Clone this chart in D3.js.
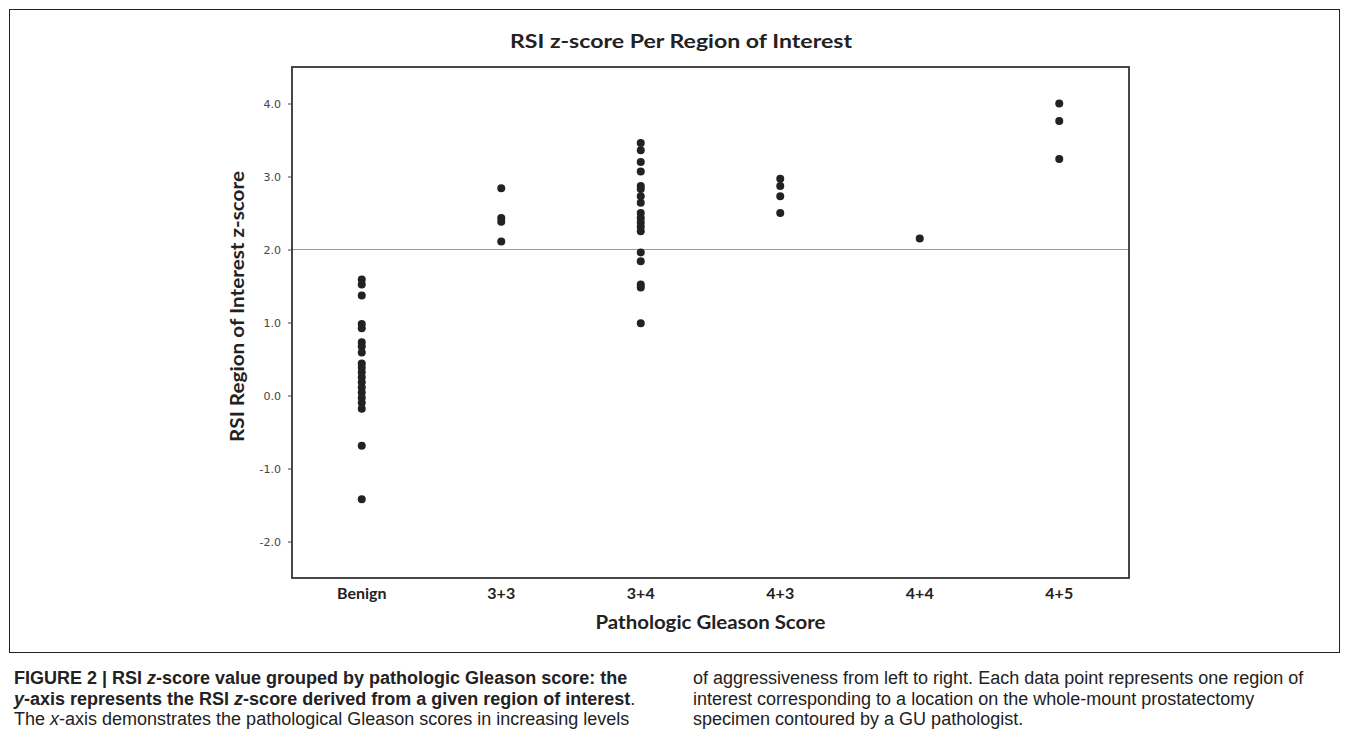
<!DOCTYPE html>
<html><head><meta charset="utf-8">
<script src="https://cdn.jsdelivr.net/npm/d3@7"></script>
<style>
body{margin:0;background:#fff;}
svg{display:block;}
</style></head>
<body>
<svg id="chart" width="1356" height="752"></svg>
<script>
const categories = ["Benign", "3+3", "3+4", "4+3", "4+4", "4+5"];
const benign = [1.59, 1.52, 1.37, 0.98, 0.92, 0.73, 0.67, 0.59, 0.44, 0.38, 0.32, 0.25, 0.18, 0.11, 0.04, -0.03, -0.10, -0.18, -0.69, -1.42];
const g33 = [2.84, 2.43, 2.38, 2.11];
const g34 = [3.46, 3.36, 3.20, 3.07, 2.87, 2.83, 2.73, 2.64, 2.50, 2.43, 2.37, 2.31, 2.25, 1.96, 1.84, 1.52, 1.48, 0.99];
const g43 = [2.97, 2.87, 2.73, 2.50];
const g44 = [2.15];
const g45 = [4.00, 3.76, 3.24];
const seriesValues = [benign, g33, g34, g43, g44, g45];
const yTicks = [-2, -1, 0, 1, 2, 3, 4];
const threshold = 2.0;

const points = [];
categories.forEach((c, i) => seriesValues[i].forEach(v => points.push({cat: c, v})));

const svg = d3.select("#chart");
const L = 292, R = 1129, T = 67, B = 578;
const x = d3.scaleBand().domain(categories).range([L, R]).padding(0);
const y = d3.scaleLinear().domain([-2.5, 4.5]).range([B, T]);

// outer figure box
svg.append("rect").attr("x", 9.5).attr("y", 9.5).attr("width", 1330).attr("height", 643)
  .attr("fill", "none").attr("stroke", "#222").attr("stroke-width", 1);

// title
const title = svg.append("text").attr("x", 681).attr("y", 48).attr("text-anchor", "middle")
  .attr("font-family", "Lato, 'Open Sans', sans-serif").attr("font-size", 19).attr("fill", "#222")
  .attr("textLength", 342).attr("lengthAdjust", "spacingAndGlyphs");
title.append("tspan").attr("font-weight", 700).text("RSI  z-score");
title.append("tspan").attr("font-weight", 700).text(" Per Region of Interest");

// threshold line
svg.append("line").attr("x1", L).attr("x2", R).attr("y1", y(threshold)).attr("y2", y(threshold))
  .attr("stroke", "#999").attr("stroke-width", 1.2);

// frame
svg.append("rect").attr("x", L).attr("y", T).attr("width", R - L).attr("height", B - T)
  .attr("fill", "none").attr("stroke", "#333").attr("stroke-width", 1.8);

// y axis
const yAxis = svg.append("g").attr("transform", `translate(${L},0)`)
  .call(d3.axisLeft(y).tickValues(yTicks).tickSize(4).tickPadding(7).tickFormat(d => d.toFixed(1)));
yAxis.select(".domain").remove();
yAxis.selectAll("line").attr("stroke", "#444");
yAxis.selectAll("text").attr("font-family", "'DejaVu Sans', sans-serif").attr("font-size", 11).attr("fill", "#444");

// x axis
const xAxis = svg.append("g").attr("transform", `translate(0,${B})`)
  .call(d3.axisBottom(x).tickSize(0).tickPadding(10));
xAxis.select(".domain").remove();
xAxis.selectAll("text").attr("font-family", "Lato, sans-serif").attr("font-weight", 700)
  .attr("font-size", 16).attr("fill", "#222");

// axis titles
svg.append("text").attr("x", (L + R) / 2).attr("y", 629).attr("text-anchor", "middle")
  .attr("font-family", "Lato, sans-serif").attr("font-weight", 700).attr("font-size", 19).attr("fill", "#222")
  .attr("textLength", 230).attr("lengthAdjust", "spacingAndGlyphs")
  .text("Pathologic Gleason Score");
svg.append("text").attr("transform", `translate(244,306.5) rotate(-90)`).attr("text-anchor", "middle")
  .attr("font-family", "Lato, sans-serif").attr("font-weight", 700).attr("font-size", 19).attr("fill", "#222")
  .attr("textLength", 271).attr("lengthAdjust", "spacingAndGlyphs")
  .text("RSI Region of Interest z-score");

// points
svg.append("g").selectAll("circle").data(points).join("circle")
  .attr("cx", d => x(d.cat) + x.bandwidth() / 2)
  .attr("cy", d => y(d.v))
  .attr("r", 4)
  .attr("fill", "#222");

// caption
const capFont = "'Liberation Sans', Arial, sans-serif";
function capLine(xp, yp, parts) {
  const t = svg.append("text").attr("x", xp).attr("y", yp).attr("font-family", capFont)
    .attr("font-size", 18).attr("fill", "#222");
  parts.forEach(p => t.append("tspan").attr("font-weight", p.b ? 700 : 400)
    .attr("font-style", p.i ? "italic" : "normal").text(p.t));
}
capLine(14, 684, [{t: "FIGURE 2 | RSI ", b: 1}, {t: "z", b: 1, i: 1}, {t: "-score value grouped by pathologic Gleason score: the", b: 1}]);
capLine(14, 705, [{t: "y", b: 1, i: 1}, {t: "-axis represents the RSI ", b: 1}, {t: "z", b: 1, i: 1}, {t: "-score derived from a given region of interest", b: 1}, {t: "."}]);
capLine(14, 725, [{t: "The "}, {t: "x", i: 1}, {t: "-axis demonstrates the pathological Gleason scores in increasing levels"}]);
capLine(693, 684, [{t: "of aggressiveness from left to right. Each data point represents one region of"}]);
capLine(693, 705, [{t: "interest corresponding to a location on the whole-mount prostatectomy"}]);
capLine(693, 725, [{t: "specimen contoured by a GU pathologist."}]);
</script>
</body></html>
